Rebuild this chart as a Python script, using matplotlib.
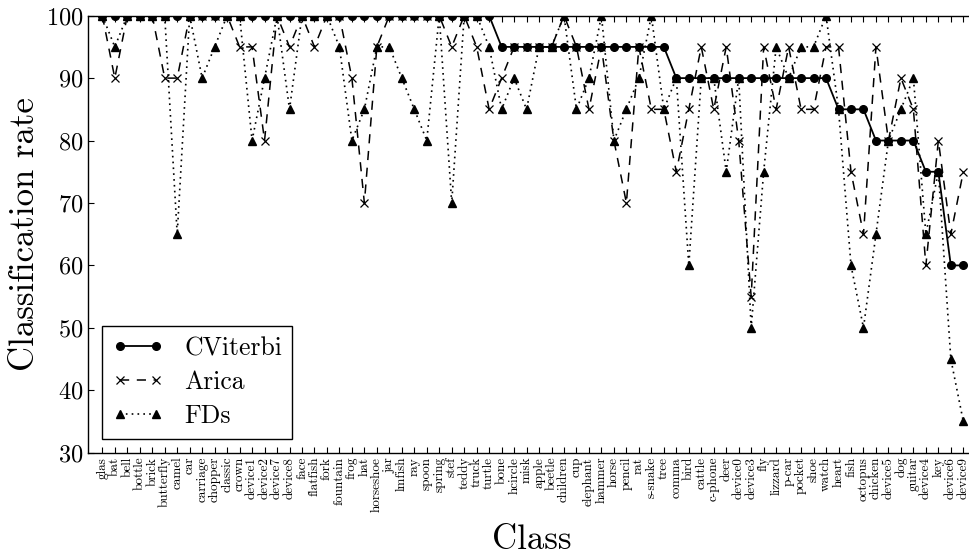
import matplotlib
matplotlib.use("Agg")
import matplotlib.pyplot as plt

plt.rcParams['font.family'] = ['cmr10', 'DejaVu Serif']
plt.rcParams['mathtext.fontset'] = 'cm'
plt.rcParams['axes.formatter.use_mathtext'] = True

# classes in the order they appear on the x axis
classes = ['glas', 'bat', 'bell', 'bottle', 'brick', 'butterfly', 'camel', 'car',
           'carriage', 'chopper', 'classic', 'crown', 'device1', 'device2', 'device7',
           'device8', 'face', 'flatfish', 'fork', 'fountain', 'frog', 'hat', 'horseshoe',
           'jar', 'lmfish', 'ray', 'spoon', 'spring', 'stef', 'teddy', 'truck', 'turtle',
           'bone', 'hcircle', 'misk', 'apple', 'beetle', 'children', 'cup', 'elephant',
           'hammer', 'horse', 'pencil', 'rat', 's-snake', 'tree', 'comma', 'bird',
           'cattle', 'c-phone', 'deer', 'device0', 'device3', 'fly', 'lizzard', 'p-car',
           'pocket', 'shoe', 'watch', 'heart', 'fish', 'octopus', 'chicken', 'device5',
           'dog', 'guitar', 'device4', 'key', 'device6', 'device9']

cviterbi = [100, 100, 100, 100, 100, 100, 100, 100, 100, 100, 100, 100, 100, 100,
            100, 100, 100, 100, 100, 100, 100, 100, 100, 100, 100, 100, 100, 100,
            100, 100, 100, 100, 95, 95, 95, 95, 95, 95, 95, 95, 95, 95, 95, 95, 95, 95,
            90, 90, 90, 90, 90, 90, 90, 90, 90, 90, 90, 90, 90,
            85, 85, 85, 80, 80, 80, 80, 75, 75, 60, 60]

arica = [100, 90, 100, 100, 100, 90, 90, 100, 100, 100, 100, 95, 95, 80, 100, 95,
         100, 95, 100, 100, 90, 70, 95, 100, 100, 100, 100, 100, 95, 100, 95, 85,
         90, 95, 95, 95, 95, 100, 95, 85, 95, 80, 70, 95, 85, 85,
         75, 85, 95, 85, 95, 80, 55, 95, 85, 95, 85, 85, 95,
         95, 75, 65, 95, 80, 90, 85, 60, 80, 65, 75]

fds = [100, 95, 100, 100, 100, 100, 65, 100, 90, 95, 100, 100, 80, 90, 100, 85,
       100, 100, 100, 95, 80, 85, 95, 95, 90, 85, 80, 100, 70, 100, 100, 95,
       85, 90, 85, 95, 95, 100, 85, 90, 100, 80, 85, 90, 100, 85,
       90, 60, 90, 90, 75, 90, 50, 75, 95, 90, 95, 95, 100,
       85, 60, 50, 65, 80, 85, 90, 65, 75, 45, 35]

x = list(range(len(classes)))

fig = plt.figure(figsize=(9.69, 5.6), dpi=100)
ax = fig.add_axes([0.0908, 0.1916, 0.9162, 0.7804])

ax.plot(x, cviterbi, color='black', linestyle='-', linewidth=1.3,
        marker='o', markersize=5.5, label='CViterbi')
ax.plot(x, arica, color='black', linestyle=(0, (6, 5)), linewidth=1.1,
        marker='x', markersize=6, markeredgewidth=0.9, label='Arica')
ax.plot(x, fds, color='black', linestyle=(0, (1, 2.5)), linewidth=1.2,
        marker='^', markersize=6, label='FDs')

ax.set_xlim(-1.15, 70)
ax.set_ylim(30, 100)
ax.set_yticks([30, 40, 50, 60, 70, 80, 90, 100])
ax.set_xticks(x)
ax.set_xticklabels(classes, rotation=90, fontsize=9.5)
ax.tick_params(axis='y', labelsize=17.5, pad=3)
ax.tick_params(direction='in', top=True, right=True, length=4, width=0.8)
ax.tick_params(axis='x', pad=3)

ax.set_xlabel('Class', fontsize=25, labelpad=9)
ax.set_ylabel('Classification rate', fontsize=25, labelpad=4)

for s in ax.spines.values():
    s.set_linewidth(1.0)

leg = ax.legend(loc='lower left', fontsize=18.5, numpoints=2, fancybox=False,
                edgecolor='black', framealpha=1, borderaxespad=0.55,
                handlelength=2.0, labelspacing=0.4, borderpad=0.4)
leg.get_frame().set_linewidth(1.0)

fig.savefig('out.png', dpi=100)
